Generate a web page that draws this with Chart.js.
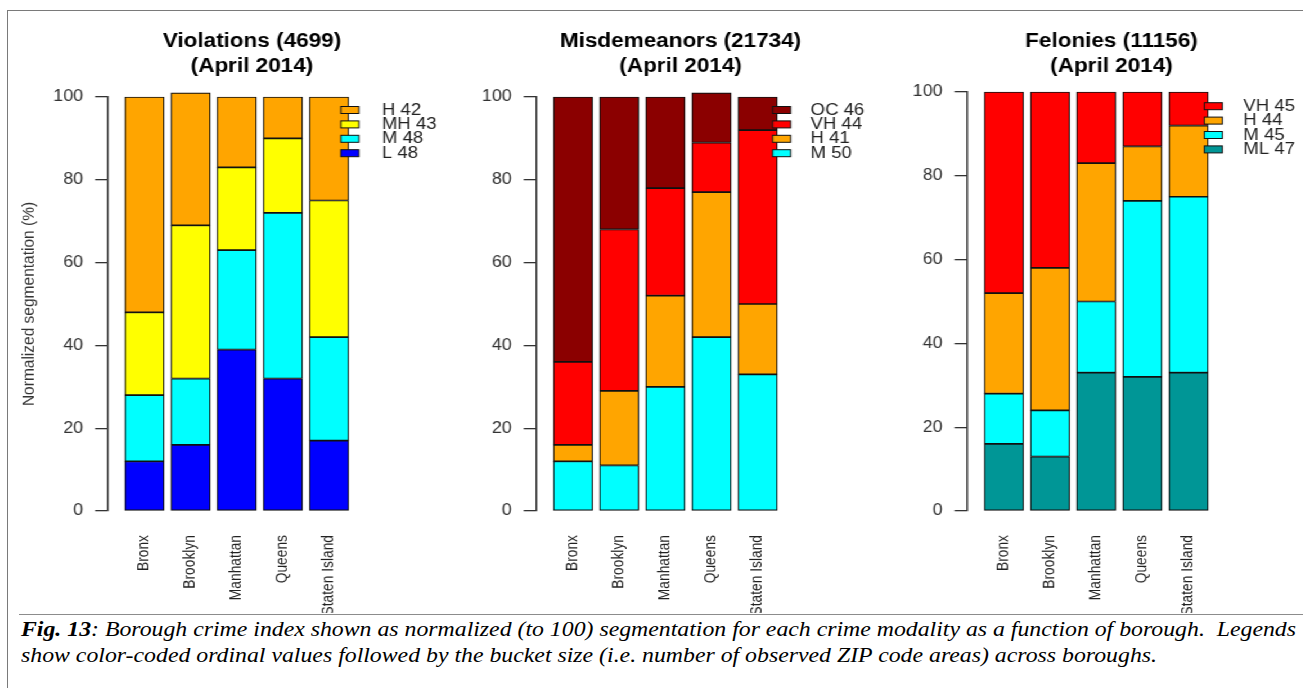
<!DOCTYPE html>
<html>
<head>
<meta charset="utf-8">
<script src="https://cdn.jsdelivr.net/npm/chart.js@4/dist/chart.umd.min.js"></script>
<style>
html, body { margin: 0; padding: 0; background: #fff; }
body { width: 1303px; height: 688px; position: relative; overflow: hidden; }
#frameTop { position: absolute; left: 7px; top: 10px; right: 0; border-top: 1px solid #7a7a7a; }
#frameLeft { position: absolute; left: 7px; top: 10px; bottom: 0; border-left: 1px solid #7a7a7a; }
#rule { position: absolute; left: 19px; top: 614px; right: 0; border-top: 1px solid #8c8c8c; }
/* the three plots are laid out narrow and widened as a group */
#plots { position: absolute; left: 0; top: 12px; width: 1159px; height: 601px; transform: scaleX(1.125); transform-origin: 0 0; }
#plots canvas { position: absolute; top: 0; }
.cap { position: absolute; left: 20.5px; font-family: "Liberation Serif", "Times New Roman", Times, "DejaVu Serif", serif; font-style: italic;
       font-size: 21px; line-height: 21px; white-space: nowrap; transform-origin: 0 0; color: #000; }
</style>
</head>
<body>
<div id="frameTop"></div>
<div id="frameLeft"></div>
<div id="plots">
  <canvas id="violations" width="384" height="601" style="left:10px"></canvas>
  <canvas id="misdemeanors" width="384" height="601" style="left:391px"></canvas>
  <canvas id="felonies" width="384" height="601" style="left:774px"></canvas>
</div>
<div id="rule"></div>
<div class="cap" id="cap1" style="top:619px"><b>Fig. 13</b>: Borough crime index shown as normalized (to 100) segmentation for each crime modality as a function of borough.&nbsp; Legends</div>
<div class="cap" id="cap2" style="top:645px">show color-coded ordinal values followed by the bucket size (i.e. number of observed ZIP code areas) across boroughs.</div>

<script>
const boroughs = ['Bronx', 'Brooklyn', 'Manhattan', 'Queens', 'Staten Island'];
const yTicks = [0, 20, 40, 60, 80, 100];

// Violations, bottom segment first
const violL = [12, 16, 39, 32, 17];
const violM = [16, 16, 24, 40, 25];
const violMH = [20, 37, 20, 18, 33];
const violH = [52, 32, 17, 10, 25];

// Misdemeanors
const misdM = [12, 11, 30, 42, 33];
const misdH = [4, 18, 22, 35, 17];
const misdVH = [20, 39, 26, 12, 42];
const misdOC = [64, 32, 22, 12, 8];

// Felonies
const felML = [16, 13, 33, 32, 33];
const felM = [12, 11, 17, 42, 42];
const felH = [24, 34, 33, 13, 17];
const felVH = [48, 42, 17, 13, 8];

const FONT = '"Liberation Sans", Arial, Helvetica, sans-serif';
Chart.defaults.font.family = FONT;

// small boxed legend, top entry = top segment
const boxLegend = {
    id: 'boxLegend',
    afterDatasetsDraw(chart, args, opts) {
        const { ctx, chartArea } = chart;
        const items = chart.data.datasets.slice().reverse();
        ctx.save();
        ctx.font = '16.5px ' + FONT;
        ctx.textBaseline = 'middle';
        ctx.lineWidth = 1;
        items.forEach((d, i) => {
            const y = chartArea.top + opts.top + i * 14.4;
            const x = chartArea.left + opts.boxX;
            ctx.fillStyle = d.backgroundColor;
            ctx.fillRect(x, y - 3.5, 16, 7);
            ctx.strokeStyle = '#111';
            ctx.strokeRect(x, y - 3.5, 16, 7);
            ctx.fillStyle = '#222';
            ctx.fillText(d.label, chartArea.left + opts.textX, y);
        });
        ctx.restore();
    }
};

function series(label, values, color) {
    return {
        label: label,
        data: values.map((v, i) => ({ x: i, y: v })),
        backgroundColor: color,
        borderColor: '#111',
        borderWidth: 1.2,
        borderSkipped: false,
        barThickness: 35,
        clip: false
    };
}

function drawPanel(id, title, datasets, titleBottom, legendPos, yTitle) {
    new Chart(document.getElementById(id), {
        type: 'bar',
        data: { datasets: datasets },
        plugins: [boxLegend],
        options: {
            responsive: false,
            animation: false,
            events: [],
            layout: { padding: { left: 0, right: 42, top: 0, bottom: 0 } },
            plugins: {
                legend: { display: false },
                tooltip: { enabled: false },
                boxLegend: legendPos,
                title: {
                    display: true,
                    text: title,
                    fullSize: false,
                    color: '#000',
                    font: { size: 20, weight: 'bold', lineHeight: 1.25 },
                    padding: { top: 16.5, bottom: titleBottom }
                }
            },
            scales: {
                x: {
                    type: 'linear',
                    offset: false,
                    stacked: true,
                    min: -0.79,
                    max: 5.45,
                    afterBuildTicks: s => { s.ticks = boroughs.map((b, i) => ({ value: i })); },
                    afterFit: s => { s.height = 102; },
                    ticks: {
                        callback: v => boroughs[v],
                        autoSkip: false,
                        minRotation: 90,
                        maxRotation: 90,
                        padding: 24,
                        color: '#222',
                        font: { size: 13.8 }
                    },
                    grid: { display: false, drawTicks: false, offset: false },
                    border: { display: false }
                },
                y: {
                    stacked: true,
                    min: 0,
                    max: 100,
                    afterBuildTicks: s => { s.ticks = yTicks.map(v => ({ value: v })); },
                    afterFit: s => { s.width = 86; },
                    ticks: { color: '#333', padding: 10.5, font: { size: 16 } },
                    grid: { drawOnChartArea: false, drawTicks: true, tickLength: 11.5, color: '#333', lineWidth: 1.3 },
                    border: { display: true, color: '#333', width: 1.5 },
                    title: {
                        display: !!yTitle,
                        text: yTitle || '',
                        color: '#333',
                        font: { size: 15.5 },
                        padding: { top: 6, bottom: 0 }
                    }
                }
            }
        }
    });
}

drawPanel('violations', ['Violations (4699)', '(April 2014)'], [
    series('L 48', violL, '#0000ff'),
    series('M 48', violM, '#00ffff'),
    series('MH 43', violMH, '#ffff00'),
    series('H 42', violH, '#ffa500')
], 18.5, { top: 13, boxX: 207, textX: 243.6 }, 'Normalized segmentation (%)');

drawPanel('misdemeanors', ['Misdemeanors (21734)', '(April 2014)'], [
    series('M 50', misdM, '#00ffff'),
    series('H 41', misdH, '#ffa500'),
    series('VH 44', misdVH, '#ff0000'),
    series('OC 46', misdOC, '#8b0000')
], 18.5, { top: 13, boxX: 209.8, textX: 243.6 });

drawPanel('felonies', ['Felonies (11156)', '(April 2014)'], [
    series('ML 47', felML, '#009696'),
    series('M 45', felM, '#00ffff'),
    series('H 44', felH, '#ffa500'),
    series('VH 45', felVH, '#ff0000')
], 13.5, { top: 14.2, boxX: 210.6, textX: 245.3 });

// squeeze each caption line to its column width
[['cap1', 1275], ['cap2', 1136]].forEach(([id, w]) => {
    const el = document.getElementById(id);
    el.style.transform = 'scaleX(' + (w / el.getBoundingClientRect().width) + ')';
});
</script>
</body>
</html>
